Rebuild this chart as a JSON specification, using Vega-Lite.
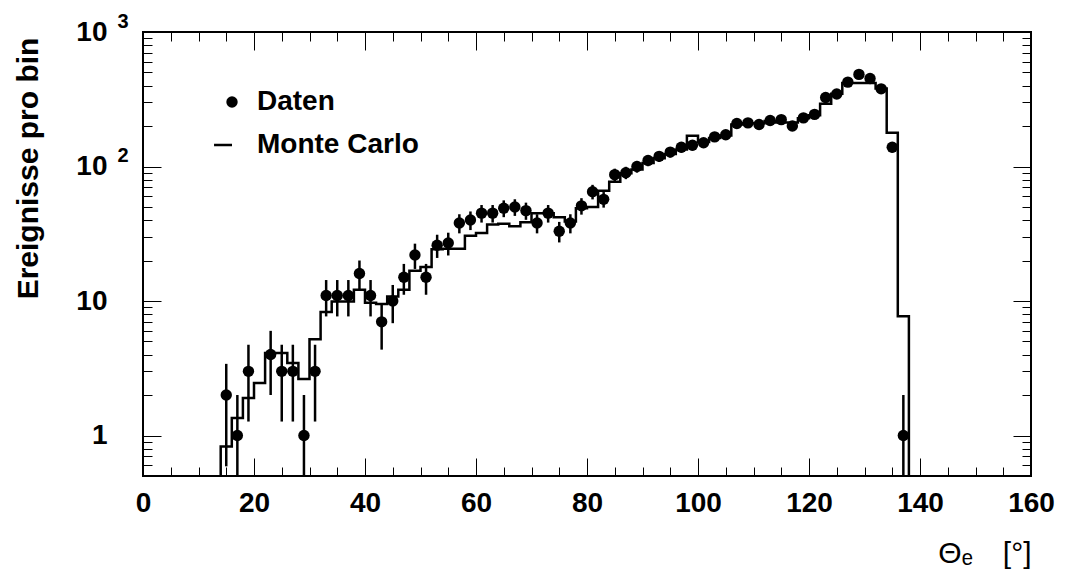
{
  "$schema": "https://vega.github.io/schema/vega-lite/v6.json",
  "width": 888,
  "height": 444,
  "autosize": {"type": "none"},
  "padding": {"left": 143, "top": 32, "right": 34, "bottom": 95},
  "background": "white",
  "config": {
    "font": "Liberation Sans",
    "view": {"stroke": "black", "strokeWidth": 2},
    "axis": {"domain": false, "grid": false, "tickColor": "black", "tickWidth": 1, "labelColor": "black", "titleColor": "black"}
  },
  "datasets": {
    "daten": [
      {"theta": 15, "n": 2, "lo": 0.59, "hi": 3.41},
      {"theta": 17, "n": 1, "lo": 0.1, "hi": 2},
      {"theta": 19, "n": 3, "lo": 1.27, "hi": 4.73},
      {"theta": 23, "n": 4, "lo": 2, "hi": 6},
      {"theta": 25, "n": 3, "lo": 1.27, "hi": 4.73},
      {"theta": 27, "n": 3, "lo": 1.27, "hi": 4.73},
      {"theta": 29, "n": 1, "lo": 0.1, "hi": 2},
      {"theta": 31, "n": 3, "lo": 1.27, "hi": 4.73},
      {"theta": 33, "n": 11, "lo": 7.68, "hi": 14.32},
      {"theta": 35, "n": 11, "lo": 7.68, "hi": 14.32},
      {"theta": 37, "n": 11, "lo": 7.68, "hi": 14.32},
      {"theta": 39, "n": 16, "lo": 12, "hi": 20},
      {"theta": 41, "n": 11, "lo": 7.68, "hi": 14.32},
      {"theta": 43, "n": 7, "lo": 4.35, "hi": 9.65},
      {"theta": 45, "n": 10, "lo": 6.84, "hi": 13.16},
      {"theta": 47, "n": 15, "lo": 11.13, "hi": 18.87},
      {"theta": 49, "n": 22, "lo": 17.31, "hi": 26.69},
      {"theta": 51, "n": 15, "lo": 11.13, "hi": 18.87},
      {"theta": 53, "n": 26, "lo": 20.9, "hi": 31.1},
      {"theta": 55, "n": 27, "lo": 21.8, "hi": 32.2},
      {"theta": 57, "n": 38, "lo": 31.84, "hi": 44.16},
      {"theta": 59, "n": 40, "lo": 33.68, "hi": 46.32},
      {"theta": 61, "n": 45, "lo": 38.29, "hi": 51.71},
      {"theta": 63, "n": 45, "lo": 38.29, "hi": 51.71},
      {"theta": 65, "n": 49, "lo": 42, "hi": 56},
      {"theta": 67, "n": 50, "lo": 42.93, "hi": 57.07},
      {"theta": 69, "n": 47, "lo": 40.14, "hi": 53.86},
      {"theta": 71, "n": 38, "lo": 31.84, "hi": 44.16},
      {"theta": 73, "n": 45, "lo": 38.29, "hi": 51.71},
      {"theta": 75, "n": 33, "lo": 27.26, "hi": 38.74},
      {"theta": 77, "n": 38, "lo": 31.84, "hi": 44.16},
      {"theta": 79, "n": 51, "lo": 43.86, "hi": 58.14},
      {"theta": 81, "n": 65, "lo": 56.94, "hi": 73.06},
      {"theta": 83, "n": 57, "lo": 49.45, "hi": 64.55},
      {"theta": 85, "n": 87, "lo": 77.67, "hi": 96.33},
      {"theta": 87, "n": 90, "lo": 80.51, "hi": 99.49},
      {"theta": 89, "n": 100, "lo": 90, "hi": 110},
      {"theta": 91, "n": 111, "lo": 100.46, "hi": 121.54},
      {"theta": 93, "n": 119, "lo": 108.09, "hi": 129.91},
      {"theta": 95, "n": 128, "lo": 116.69, "hi": 139.31},
      {"theta": 97, "n": 139, "lo": 127.21, "hi": 150.79},
      {"theta": 99, "n": 144, "lo": 132, "hi": 156},
      {"theta": 101, "n": 150, "lo": 137.75, "hi": 162.25},
      {"theta": 103, "n": 166, "lo": 153.12, "hi": 178.88},
      {"theta": 105, "n": 172, "lo": 158.89, "hi": 185.11},
      {"theta": 107, "n": 209, "lo": 194.54, "hi": 223.46},
      {"theta": 109, "n": 211, "lo": 196.47, "hi": 225.53},
      {"theta": 111, "n": 205, "lo": 190.68, "hi": 219.32},
      {"theta": 113, "n": 220, "lo": 205.17, "hi": 234.83},
      {"theta": 115, "n": 223, "lo": 208.07, "hi": 237.93},
      {"theta": 117, "n": 200, "lo": 185.86, "hi": 214.14},
      {"theta": 119, "n": 230, "lo": 214.83, "hi": 245.17},
      {"theta": 121, "n": 244, "lo": 228.38, "hi": 259.62},
      {"theta": 123, "n": 326, "lo": 307.94, "hi": 344.06},
      {"theta": 125, "n": 346, "lo": 327.4, "hi": 364.6},
      {"theta": 127, "n": 424, "lo": 403.41, "hi": 444.59},
      {"theta": 129, "n": 484, "lo": 462, "hi": 506},
      {"theta": 131, "n": 451, "lo": 429.76, "hi": 472.24},
      {"theta": 133, "n": 378, "lo": 358.56, "hi": 397.44},
      {"theta": 135, "n": 139, "lo": 127.21, "hi": 150.79},
      {"theta": 137, "n": 1, "lo": 0.1, "hi": 2}
    ],
    "mc": [
      {"k": 0, "edge": 14, "mc": 0.1},
      {"k": 1, "edge": 14, "mc": 0.83},
      {"k": 2, "edge": 16, "mc": 1.35},
      {"k": 3, "edge": 18, "mc": 1.9},
      {"k": 4, "edge": 20, "mc": 2.46},
      {"k": 5, "edge": 22, "mc": 4.1},
      {"k": 6, "edge": 24, "mc": 4.1},
      {"k": 7, "edge": 26, "mc": 3.46},
      {"k": 8, "edge": 28, "mc": 2.63},
      {"k": 9, "edge": 30, "mc": 5.2},
      {"k": 10, "edge": 32, "mc": 8.3},
      {"k": 11, "edge": 34, "mc": 9.9},
      {"k": 12, "edge": 36, "mc": 9.9},
      {"k": 13, "edge": 38, "mc": 12.1},
      {"k": 14, "edge": 40, "mc": 9.7},
      {"k": 15, "edge": 42, "mc": 9.5},
      {"k": 16, "edge": 44, "mc": 10.8},
      {"k": 17, "edge": 46, "mc": 12.1},
      {"k": 18, "edge": 48, "mc": 16.8},
      {"k": 19, "edge": 50, "mc": 17.9},
      {"k": 20, "edge": 52, "mc": 24.3},
      {"k": 21, "edge": 54, "mc": 24.5},
      {"k": 22, "edge": 56, "mc": 24.5},
      {"k": 23, "edge": 58, "mc": 30.5},
      {"k": 24, "edge": 60, "mc": 32},
      {"k": 25, "edge": 62, "mc": 37},
      {"k": 26, "edge": 64, "mc": 37.5},
      {"k": 27, "edge": 66, "mc": 36},
      {"k": 28, "edge": 68, "mc": 38.5},
      {"k": 29, "edge": 70, "mc": 45},
      {"k": 30, "edge": 72, "mc": 45},
      {"k": 31, "edge": 74, "mc": 42},
      {"k": 32, "edge": 76, "mc": 39},
      {"k": 33, "edge": 78, "mc": 49},
      {"k": 34, "edge": 80, "mc": 50},
      {"k": 35, "edge": 82, "mc": 66},
      {"k": 36, "edge": 84, "mc": 77},
      {"k": 37, "edge": 86, "mc": 89},
      {"k": 38, "edge": 88, "mc": 95},
      {"k": 39, "edge": 90, "mc": 106},
      {"k": 40, "edge": 92, "mc": 115},
      {"k": 41, "edge": 94, "mc": 124},
      {"k": 42, "edge": 96, "mc": 134},
      {"k": 43, "edge": 98, "mc": 169},
      {"k": 44, "edge": 100, "mc": 152},
      {"k": 45, "edge": 102, "mc": 163},
      {"k": 46, "edge": 104, "mc": 170},
      {"k": 47, "edge": 106, "mc": 205},
      {"k": 48, "edge": 108, "mc": 210},
      {"k": 49, "edge": 110, "mc": 210},
      {"k": 50, "edge": 112, "mc": 218},
      {"k": 51, "edge": 114, "mc": 212},
      {"k": 52, "edge": 116, "mc": 212},
      {"k": 53, "edge": 118, "mc": 228},
      {"k": 54, "edge": 120, "mc": 240},
      {"k": 55, "edge": 122, "mc": 293},
      {"k": 56, "edge": 124, "mc": 348},
      {"k": 57, "edge": 126, "mc": 418},
      {"k": 58, "edge": 128, "mc": 418},
      {"k": 59, "edge": 130, "mc": 418},
      {"k": 60, "edge": 132, "mc": 380},
      {"k": 61, "edge": 134, "mc": 178},
      {"k": 62, "edge": 136, "mc": 7.7},
      {"k": 63, "edge": 138, "mc": 0.1}
    ]
  },
  "layer": [
    {
      "data": {"name": "mc"},
      "mark": {"type": "line", "interpolate": "step-after", "color": "black", "strokeWidth": 2.5, "clip": true},
      "encoding": {
        "x": {
          "field": "edge", "type": "quantitative",
          "scale": {"domain": [0, 160], "nice": false, "zero": false},
          "axis": {
            "orient": "bottom", "values": [0, 20, 40, 60, 80, 100, 120, 140, 160],
            "ticks": false, "labelFont": "Liberation Sans", "labelFontSize": 28, "labelFontWeight": "bold",
            "labelPadding": 13, "labelBaseline": "top", "labelFlush": false, "labelOverlap": false, "labelBound": false,
            "format": "d",
            "title": "Θₑ\u2002\u2002[°]", "titleFont": "Liberation Sans", "titleFontSize": 30, "titleFontWeight": "normal",
            "titleAnchor": null, "titleX": 888, "titleY": 86, "titleAlign": "right", "titleBaseline": "alphabetic"
          }
        },
        "y": {
          "field": "mc", "type": "quantitative",
          "scale": {"type": "log", "domain": [0.5, 1000], "nice": false},
          "axis": {
            "orient": "left", "values": [1, 10, 100, 1000], "ticks": false,
            "labelExpr": "datum.value == 1 ? '1' : '10'",
            "labelFont": "Liberation Sans", "labelFontSize": 28, "labelFontWeight": "bold",
            "labelPadding": 36, "labelAlign": "right", "labelBaseline": "middle", "labelFlush": false, "labelOverlap": false, "labelBound": false,
            "title": "Ereignisse pro bin", "titleFont": "Liberation Sans", "titleFontSize": 30, "titleFontWeight": "bold",
            "titleAngle": -90, "titleAnchor": null, "titleX": -106, "titleY": 136, "titleAlign": "center", "titleBaseline": "alphabetic"
          }
        },
        "order": {"field": "k", "type": "quantitative"}
      }
    },
    {
      "data": {"name": "daten"},
      "mark": {"type": "rule", "color": "black", "strokeWidth": 2.5, "clip": true},
      "encoding": {
        "x": {
          "field": "theta", "type": "quantitative",
          "axis": {
            "orient": "bottom", "labels": false, "title": null,
            "values": [0,5,10,15,20,25,30,35,40,45,50,55,60,65,70,75,80,85,90,95,100,105,110,115,120,125,130,135,140,145,150,155,160],
            "tickSize": {"condition": {"test": "datum.value % 20 === 0", "value": -18}, "value": -9}
          }
        },
        "y": {
          "field": "lo", "type": "quantitative",
          "axis": {
            "orient": "left", "title": null,
            "values": [0.6,0.7,0.8,0.9,1,2,3,4,5,6,7,8,9,10,20,30,40,50,60,70,80,90,100,200,300,400,500,600,700,800,900,1000],
            "tickSize": {"condition": {"test": "datum.value === 1 || datum.value === 10 || datum.value === 100 || datum.value === 1000", "value": -18}, "value": -9},
            "labels": true,
            "labelExpr": "datum.value == 1000 ? '3' : datum.value == 100 ? '2' : ''",
            "labelFont": "Liberation Sans", "labelFontSize": 20, "labelFontWeight": "bold",
            "labelAlign": "right", "labelBaseline": "middle", "labelPadding": 33, "labelOffset": -11,
            "labelFlush": false, "labelOverlap": false, "labelBound": false
          }
        },
        "y2": {"field": "hi"}
      }
    },
    {
      "data": {"name": "daten"},
      "mark": {"type": "point", "filled": true, "size": 130, "color": "black", "opacity": 1, "clip": true},
      "encoding": {
        "x": {
          "field": "theta", "type": "quantitative",
          "axis": {
            "orient": "top", "labels": false, "title": null,
            "values": [0,5,10,15,20,25,30,35,40,45,50,55,60,65,70,75,80,85,90,95,100,105,110,115,120,125,130,135,140,145,150,155,160],
            "tickSize": {"condition": {"test": "datum.value % 20 === 0", "value": -18}, "value": -9}
          }
        },
        "y": {
          "field": "n", "type": "quantitative",
          "axis": {
            "orient": "right", "labels": false, "title": null,
            "values": [0.6,0.7,0.8,0.9,1,2,3,4,5,6,7,8,9,10,20,30,40,50,60,70,80,90,100,200,300,400,500,600,700,800,900,1000],
            "tickSize": {"condition": {"test": "datum.value === 1 || datum.value === 10 || datum.value === 100 || datum.value === 1000", "value": -18}, "value": -9}
          }
        },
        "shape": {
          "datum": "Daten", "type": "nominal",
          "scale": {"domain": ["Daten", "Monte Carlo"], "range": ["circle", "M-3.15,-0.22H0V0.22H-3.15Z"]},
          "legend": {
            "orient": "none", "legendX": 75, "legendY": 56, "title": null, "padding": 0,
            "labelFont": "Liberation Sans", "labelFontSize": 28, "labelFontWeight": "bold", "labelColor": "black",
            "labelOffset": 11, "labelLimit": 400, "rowPadding": 15, "symbolSize": 130,
            "symbolFillColor": "black", "symbolStrokeColor": "black", "symbolStrokeWidth": 0, "symbolOpacity": 1
          }
        }
      }
    }
  ],
  "resolve": {"axis": {"x": "independent", "y": "independent"}}
}
